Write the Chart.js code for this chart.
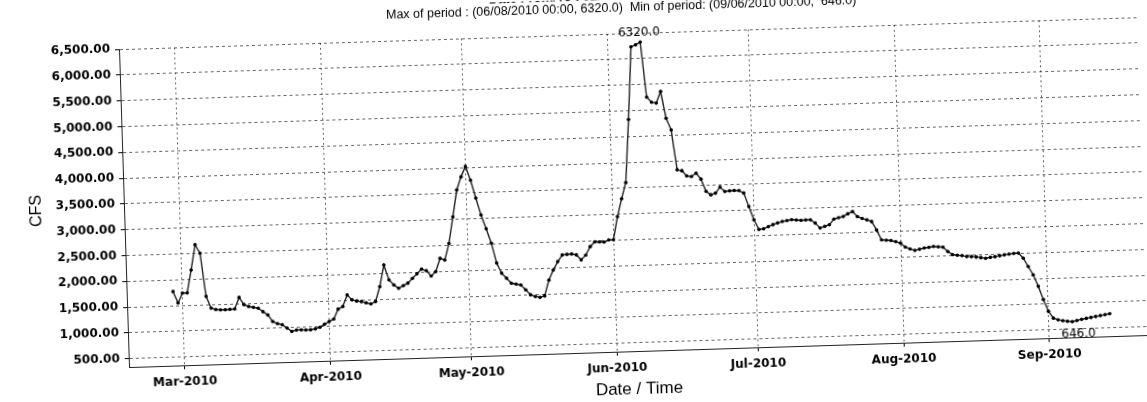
<!DOCTYPE html>
<html>
<head>
<meta charset="utf-8">
<title>CFS</title>
<script src="https://cdn.jsdelivr.net/npm/chart.js@4.4.0/dist/chart.umd.min.js"></script>
<style>
html, body { margin: 0; padding: 0; background: #fff; overflow: hidden; }
#wrap { width: 1147px; height: 402px; transform: rotate(-1.8deg); transform-origin: 50% 50%; }
</style>
</head>
<body>
<div id="wrap"><canvas id="mycanvas" width="1147" height="402"></canvas></div>
<script>
// daily flow (CFS), starting 02/27/2010
var firstDate = '2010-02-27';
var flowFeb = [1775, 1550];
var flowMar = [1740, 1740, 2180, 2670, 2500, 1660, 1430, 1400, 1390, 1390, 1395, 1400, 1620, 1480, 1440, 1420,
	1400, 1330, 1265, 1135, 1090, 1065, 1000, 930, 955, 955, 950, 950, 965, 995, 1050];
var flowApr = [1100, 1145, 1335, 1380, 1605, 1505, 1480, 1465, 1440, 1415, 1460, 1745, 2160, 1870, 1770,
	1700, 1750, 1795, 1885, 1970, 2060, 2025, 1920, 2000, 2255, 2220, 2540, 3050, 3570, 3820];
var flowMay = [4020, 3750, 3400, 3070, 2800, 2520, 2130, 1930, 1830, 1730, 1710, 1690, 1595, 1495, 1460, 1440,
	1465, 1770, 1960, 2120, 2245, 2255, 2260, 2240, 2140, 2230, 2390, 2480, 2475, 2470, 2510];
var flowJun = [2510, 2955, 3300, 3610, 4830, 6235, 6270, 6320, 5250, 5150, 5130, 5350, 4830, 4600, 3825,
	3805, 3700, 3685, 3750, 3630, 3390, 3320, 3350, 3465, 3375, 3385, 3390, 3385, 3335, 3070];
var flowJul = [2810, 2620, 2630, 2670, 2705, 2735, 2760, 2775, 2790, 2780, 2770, 2775, 2775, 2710, 2610, 2640,
	2670, 2775, 2800, 2820, 2870, 2910, 2810, 2770, 2740, 2705, 2540, 2345, 2335, 2325, 2300];
var flowAug = [2270, 2190, 2150, 2120, 2140, 2160, 2170, 2185, 2175, 2165, 2080, 2015, 2000, 1990, 1970, 1965,
	1955, 1940, 1925, 1940, 1950, 1965, 1980, 1990, 2000, 2005, 1905, 1740, 1575, 1350, 1090];
var flowSep = [860, 725, 690, 670, 655, 646, 665, 685, 700, 715, 730, 745, 760, 775];

var monthLabels = ['Mar-2010', 'Apr-2010', 'May-2010', 'Jun-2010', 'Jul-2010', 'Aug-2010', 'Sep-2010'];
var monthStarts = ['2010-03-01', '2010-04-01', '2010-05-01', '2010-06-01', '2010-07-01', '2010-08-01', '2010-09-01'];
var yTicks = [500, 1000, 1500, 2000, 2500, 3000, 3500, 4000, 4500, 5000, 5500, 6000, 6500];

var titleTop = 'Date From/To : 02/27/2010 - 09/14/2010';
var titleLine = 'Max of period : (06/08/2010 00:00, 6320.0)  Min of period: (09/06/2010 00:00,  646.0)';

function dayOf(s) {
	return (Date.parse(s) - Date.parse('2010-03-01')) / 86400000;
}

var flow = flowFeb.concat(flowMar, flowApr, flowMay, flowJun, flowJul, flowAug, flowSep);
var d0 = dayOf(firstDate);
var points = [];
var iMax = 0, iMin = 0;
for (var i = 0; i < flow.length; i++) {
	points.push({x: d0 + i, y: flow[i]});
	if (flow[i] > flow[iMax]) iMax = i;
	if (flow[i] < flow[iMin]) iMin = i;
}
var monthDays = monthStarts.map(dayOf);

var extras = {
	id: 'extras',
	afterDraw: function(chart) {
		var ctx = chart.ctx;
		var xs = chart.scales.x, ys = chart.scales.y;
		ctx.save();
		ctx.fillStyle = '#000';
		ctx.textBaseline = 'middle';

		// peak / low labels
		ctx.font = '12px "DejaVu Sans"';
		ctx.textAlign = 'center';
		var px = xs.getPixelForValue(points[iMax].x), py = ys.getPixelForValue(points[iMax].y);
		ctx.fillText(flow[iMax].toFixed(1), px - 1, py - 9);
		var mx = xs.getPixelForValue(points[iMin].x), my = ys.getPixelForValue(points[iMin].y);
		ctx.fillText(flow[iMin].toFixed(1), mx + 6, my + 13);

		// header lines
		ctx.textAlign = 'left';
		ctx.font = 'bold 13px "Liberation Sans"';
		ctx.fillText(titleTop, 495, -3);
		ctx.font = '12.5px "Liberation Sans"';
		ctx.fillText(titleLine, 392, 10);
		ctx.restore();
	}
};

var ctx = document.getElementById('mycanvas');

var LineGraph = new Chart(ctx, {
	type: 'line',
	data: {
		datasets: [{
			label: 'CFS',
			data: points,
			borderColor: '#222',
			borderWidth: 1.4,
			pointRadius: 1.8,
			pointBorderWidth: 0,
			pointBackgroundColor: '#000',
			lineTension: 0,
			fill: false
		}]
	},
	options: {
		responsive: false,
		animation: false,
		devicePixelRatio: 1,
		layout: {padding: {top: 35, left: 0, right: 0, bottom: 0}},
		plugins: {legend: {display: false}, tooltip: {enabled: false}},
		scales: {
			x: {
				type: 'linear',
				min: -11.86,
				max: 204.9,
				afterFit: function(s) { s.height = 49; },
				afterBuildTicks: function(s) { s.ticks = monthDays.map(function(d) { return {value: d}; }); },
				ticks: {
					autoSkip: false,
					maxRotation: 0,
					padding: 6,
					color: '#000',
					font: {family: 'DejaVu Sans', size: 12, weight: 'bold'},
					callback: function(v) { return monthLabels[monthDays.indexOf(v)]; }
				},
				grid: {color: 'rgba(0,0,0,0.6)', tickLength: 4, tickColor: '#000'},
				border: {color: '#222', dash: [2, 3]},
				title: {
					display: true,
					text: 'Date / Time',
					color: '#000',
					padding: {top: 0, bottom: 0},
					font: {family: 'Liberation Sans', size: 17}
				}
			},
			y: {
				min: 340,
				max: 6500,
				afterFit: function(s) { s.width = 124; },
				afterBuildTicks: function(s) { s.ticks = yTicks.map(function(v) { return {value: v}; }); },
				ticks: {
					padding: 5,
					color: '#000',
					font: {family: 'DejaVu Sans', size: 12, weight: 'bold'},
					callback: function(v) {
						return v.toLocaleString('en-US', {minimumFractionDigits: 2, maximumFractionDigits: 2});
					}
				},
				grid: {color: 'rgba(0,0,0,0.6)', tickLength: 4, tickColor: '#000'},
				border: {color: '#222', dash: [3, 3]},
				title: {
					display: true,
					text: 'CFS',
					color: '#000',
					padding: {top: 27, bottom: 0},
					font: {family: 'Liberation Sans', size: 16}
				}
			}
		}
	},
	plugins: [extras]
});
</script>
</body>
</html>
